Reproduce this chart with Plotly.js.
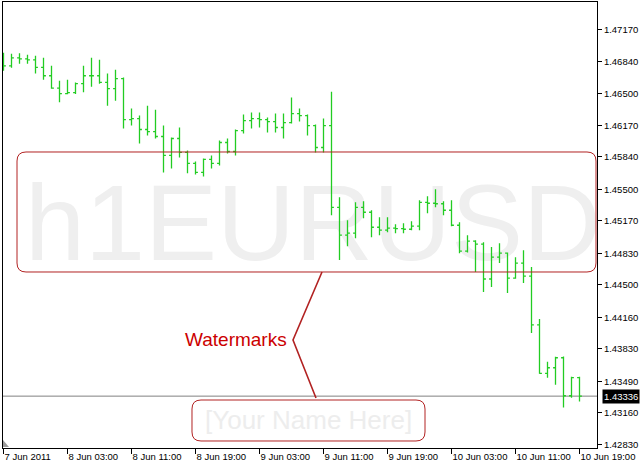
<!DOCTYPE html>
<html>
<head>
<meta charset="utf-8">
<script src="https://cdn.plot.ly/plotly-3.0.1.min.js"></script>
<style>
  html, body { margin: 0; padding: 0; background: #ffffff; }
  #chart { width: 642px; height: 465px; }
</style>
</head>
<body>
<div id="chart"></div>
<script>
// ---- DATA (EURUSD, H1, 7 Jun 2011 19:00 .. 10 Jun 2011 19:00) ----
const symbolName = "h1EURUSD";
const opens = [
  1.46847,1.46794,1.46878,1.46867,1.46857,1.46777,1.46690,1.46560,1.46502,1.46513,
  1.46607,1.46690,1.46690,1.46620,1.46555,1.46659,1.46231,1.46242,1.46127,1.46106,
  1.46054,1.45856,1.46033,1.45887,1.45772,1.45678,1.45814,1.45772,1.45991,1.45897,
  1.46116,1.46221,1.46242,1.46231,1.46210,1.46148,1.46200,1.46294,1.46273,1.46168,
  1.45939,1.46168,1.45313,1.45021,1.45042,1.45313,1.45261,1.45104,1.45073,1.45094,
  1.45090,1.45083,1.45115,1.45365,1.45355,1.45350,1.45282,1.45125,1.44854,1.44958,
  1.44927,1.44562,1.44791,1.44833,1.44572,1.44729,1.44593,1.44082,1.43575,1.43633,
  1.43738,1.43340,1.43529
];
const highs = [
  1.46930,1.46920,1.46925,1.46909,1.46899,1.46878,1.46794,1.46638,1.46648,1.46620,
  1.46794,1.46878,1.46857,1.46714,1.46753,1.46672,1.46346,1.46273,1.46377,1.46335,
  1.46168,1.46043,1.46148,1.45908,1.45793,1.45824,1.45856,1.46012,1.46033,1.46127,
  1.46283,1.46304,1.46304,1.46252,1.46294,1.46294,1.46461,1.46346,1.46283,1.46179,
  1.46242,1.46523,1.45417,1.45177,1.45365,1.45376,1.45282,1.45209,1.45209,1.45136,
  1.45146,1.45167,1.45386,1.45428,1.45501,1.45376,1.45386,1.45156,1.45021,1.44969,
  1.44948,1.44896,1.44937,1.44840,1.44791,1.44864,1.44687,1.44144,1.43696,1.43748,
  1.43750,1.43539,1.43540
];
const lows = [
  1.46742,1.46774,1.46815,1.46815,1.46714,1.46648,1.46555,1.46412,1.46495,1.46500,
  1.46516,1.46575,1.46607,1.46377,1.46429,1.46137,1.46168,1.45981,1.46064,1.46033,
  1.45678,1.45720,1.45835,1.45668,1.45657,1.45636,1.45720,1.45751,1.45876,1.45856,
  1.46085,1.46137,1.46148,1.46095,1.46095,1.46033,1.46189,1.46210,1.46064,1.45887,
  1.45887,1.45230,1.44760,1.44906,1.44990,1.45198,1.45000,1.45021,1.45052,1.45042,
  1.45042,1.45073,1.45073,1.45250,1.45313,1.45230,1.45115,1.44833,1.44840,1.44635,
  1.44426,1.44478,1.44729,1.44416,1.44565,1.44520,1.43998,1.43571,1.43529,1.43456,
  1.43216,1.43320,1.43279
];
const closes = [
  1.46794,1.46878,1.46867,1.46857,1.46777,1.46690,1.46560,1.46502,1.46513,1.46607,
  1.46690,1.46690,1.46620,1.46555,1.46659,1.46231,1.46242,1.46127,1.46106,1.46054,
  1.45856,1.46033,1.45887,1.45772,1.45678,1.45814,1.45772,1.45991,1.45897,1.46116,
  1.46221,1.46242,1.46231,1.46210,1.46148,1.46200,1.46294,1.46273,1.46168,1.45939,
  1.46168,1.45313,1.45021,1.45042,1.45313,1.45261,1.45104,1.45073,1.45094,1.45090,
  1.45083,1.45115,1.45365,1.45355,1.45350,1.45282,1.45125,1.44854,1.44958,1.44927,
  1.44562,1.44791,1.44833,1.44572,1.44729,1.44593,1.44082,1.43575,1.43633,1.43738,
  1.43340,1.43529,1.43336
];
const xTickBars   = [0, 8, 16, 24, 32, 40, 48, 56, 64, 72];
const xTickLabels = ["7 Jun 2011","8 Jun 03:00","8 Jun 11:00","8 Jun 19:00","9 Jun 03:00",
                     "9 Jun 11:00","9 Jun 19:00","10 Jun 03:00","10 Jun 11:00","10 Jun 19:00"];
const yTickValues = [1.47170,1.46840,1.46500,1.46170,1.45840,1.45500,1.45170,
                     1.44830,1.44500,1.44160,1.43830,1.43490,1.43160,1.42830];
const bidPrice = 1.43336;
const calloutText = "Watermarks";
const nameText = "[Your Name Here]";

// ---- LAYOUT GEOMETRY ----
const W = 642, H = 465;
const M = { l: 3, r: 45, t: 2, b: 17 };
const plotL = M.l, plotR = W - M.r, plotT = M.t, plotB = H - M.b;
const xRange = [-0.0625, 74.1875];
const yRange = [1.42793, 1.47462];
const px = x => (x - plotL) / (plotR - plotL);
const py = y => (plotB - y) / (plotB - plotT);
const pt = (x, y) => px(x).toFixed(5) + "," + py(y).toFixed(5);
function roundRect(x0, y0, x1, y1, r) {
  return "M" + pt(x0 + r, y0) + " L" + pt(x1 - r, y0) + " Q" + pt(x1, y0) + " " + pt(x1, y0 + r) +
         " L" + pt(x1, y1 - r) + " Q" + pt(x1, y1) + " " + pt(x1 - r, y1) +
         " L" + pt(x0 + r, y1) + " Q" + pt(x0, y1) + " " + pt(x0, y1 - r) +
         " L" + pt(x0, y0 + r) + " Q" + pt(x0, y0) + " " + pt(x0 + r, y0) + " Z";
}

const xIdx = opens.map((_, i) => i);
const fontFam = '"Liberation Sans", Arial, sans-serif';
const barGreen = "#22cc22";

const traces = [
  {
    type: "ohlc",
    x: xIdx, open: opens, high: highs, low: lows, close: closes,
    line: { width: 1.3 },
    increasing: { line: { color: barGreen, width: 1.3 } },
    decreasing: { line: { color: barGreen, width: 1.3 } },
    tickwidth: 0.3,
    hoverinfo: "skip", showlegend: false
  }
];

const red = "#b22222";
const layout = {
  width: W, height: H,
  margin: M,
  paper_bgcolor: "#ffffff", plot_bgcolor: "#ffffff",
  showlegend: false, hovermode: false, dragmode: false,
  font: { family: fontFam, size: 10, color: "#000000" },
  xaxis: {
    type: "linear", range: xRange, fixedrange: true,
    rangeslider: { visible: false },
    showgrid: false, zeroline: false,
    showline: true, mirror: true, linecolor: "#000000", linewidth: 1,
    ticks: "outside", ticklen: 5, tickcolor: "#000000",
    tickvals: xTickBars, ticktext: xTickLabels,
    tickangle: 0,
    ticklabelposition: "outside right",
    ticklabeloverflow: "allow",
    tickfont: { family: fontFam, size: 9.5, color: "#000000" }
  },
  yaxis: {
    range: yRange, fixedrange: true, side: "right",
    showgrid: false, zeroline: false,
    showline: true, mirror: true, linecolor: "#000000", linewidth: 1,
    ticks: "outside", ticklen: 4, tickcolor: "#000000",
    tickvals: yTickValues, ticktext: yTickValues.map(v => v.toFixed(5)),
    tickfont: { family: fontFam, size: 9.5, color: "#000000" }
  },
  shapes: [
    // background watermark text (drawn beneath the price bars)
    { type: "rect", xref: "paper", yref: "paper",
      x0: px(13), x1: px(613), y0: py(262), y1: py(162),
      line: { width: 0 }, fillcolor: "rgba(0,0,0,0)", layer: "below",
      label: { text: symbolName, textposition: "middle center",
               font: { family: fontFam, size: 108, color: "#efefef" } } },
    { type: "line", xref: "paper", yref: "y", x0: 0, x1: 1, y0: bidPrice, y1: bidPrice,
      line: { color: "#808080", width: 1 }, layer: "below" },
    { type: "path", xref: "paper", yref: "paper", path: roundRect(17, 152, 596, 272, 9),
      line: { color: red, width: 1 }, layer: "above" },
    { type: "path", xref: "paper", yref: "paper", path: roundRect(192, 400, 425, 441, 9),
      line: { color: red, width: 1 }, layer: "above" },
    { type: "path", xref: "paper", yref: "paper",
      path: "M" + pt(322, 272) + " L" + pt(293, 340) + " L" + pt(316, 398),
      line: { color: red, width: 1.6 }, layer: "above" },
    { type: "path", xref: "paper", yref: "paper",
      path: "M" + pt(3, 440) + " L" + pt(9, 447) + " L" + pt(3, 447) + " Z",
      fillcolor: "#9a9a9a", line: { width: 0 }, layer: "above" }
  ],
  annotations: [
    { xref: "paper", yref: "paper", x: px(236), y: py(339), text: calloutText,
      showarrow: false, xanchor: "center", yanchor: "middle",
      font: { family: fontFam, size: 19, color: "#cc0000" } },
    { xref: "paper", yref: "paper", x: px(308), y: py(420), text: nameText,
      showarrow: false, xanchor: "center", yanchor: "middle",
      font: { family: fontFam, size: 26, color: "#ededed" } },
    { xref: "paper", yref: "y", x: 1, y: bidPrice, text: bidPrice.toFixed(5),
      showarrow: false, xanchor: "left", yanchor: "middle", xshift: 5,
      bgcolor: "#000000", borderpad: 1,
      font: { family: fontFam, size: 9.5, color: "#ffffff" } }
  ]
};

Plotly.newPlot("chart", traces, layout, { displayModeBar: false, staticPlot: true });
</script>
</body>
</html>
